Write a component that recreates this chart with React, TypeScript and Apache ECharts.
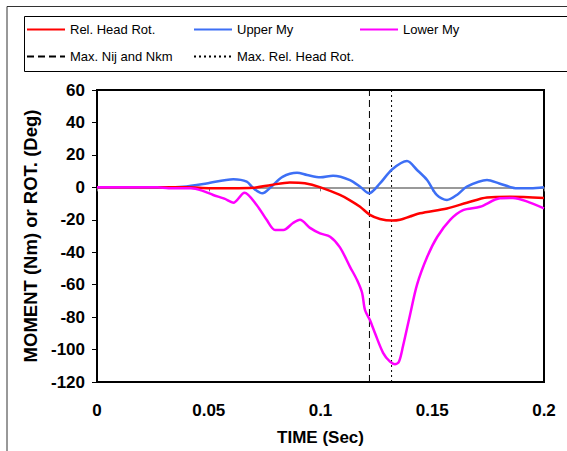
import React, { useEffect, useRef } from "react";
import * as echarts from "echarts";

const relHeadRotTime = [0, 0.04, 0.05, 0.06, 0.07, 0.078, 0.0863, 0.093, 0.1, 0.1087, 0.1132, 0.1177, 0.1221, 0.1266, 0.132, 0.1356, 0.14, 0.1445, 0.1566, 0.1655, 0.1745, 0.1848, 0.2];
const relHeadRotValues = [0, 0, -0.5, -0.6, -0.3, 1.5, 3, 2.5, 0, -4.7, -8, -12, -17, -19.5, -20.5, -20, -18, -16, -13, -9.5, -6.2, -5.8, -6.6];

const upperMyTime = [0, 0.035, 0.0385, 0.049, 0.061, 0.067, 0.07, 0.074, 0.078, 0.083, 0.0895, 0.094, 0.1, 0.1056, 0.1132, 0.118, 0.1217, 0.1266, 0.132, 0.1387, 0.1432, 0.1477, 0.152, 0.1566, 0.161, 0.1655, 0.1745, 0.18, 0.188, 0.194, 0.2];
const upperMyValues = [0, 0, 0.3, 2.4, 5, 3.5, -0.6, -3.7, 0.4, 6.5, 9, 7.6, 6.2, 7.2, 4.5, 0, -3.7, 2.4, 11, 16.2, 10.7, 4.5, -4.7, -7.8, -4.7, 0.4, 4.5, 2.4, -0.6, -0.6, 0];

const lowerMyTime = [0, 0.027, 0.032, 0.042, 0.047, 0.052, 0.057, 0.061, 0.066, 0.0715, 0.0759, 0.0797, 0.0834, 0.0877, 0.0908, 0.0953, 0.0998, 0.1043, 0.1087, 0.1132, 0.1163, 0.1186, 0.1199, 0.1221, 0.1244, 0.128, 0.1311, 0.1333, 0.1351, 0.1369, 0.14, 0.1432, 0.1477, 0.1522, 0.158, 0.1638, 0.1714, 0.1803, 0.1861, 0.192, 0.2];
const lowerMyValues = [0, 0, -0.6, -0.6, -2, -4.7, -7, -9.5, -3.3, -11, -20, -26.3, -26.3, -22, -20, -25, -28.4, -30.4, -37, -49, -57, -65, -75.6, -81.8, -90, -102, -107.5, -109, -107.5, -98, -79, -60, -43, -30.6, -20, -14, -12, -6.8, -6.6, -8.5, -13];

const maxNijTime = 0.1219;
const maxRelHeadRotTime = 0.1318;

const xTicks = { min: 0, max: 0.2, interval: 0.05 };
const yTicks = { min: -120, max: 60, interval: 20 };

const zip = (t: number[], v: number[]) => t.map((x, i) => [x, v[i]]);
const vLine = (t: number) => [[t, yTicks.min], [t, yTicks.max]];

const FONT = "'Liberation Sans', Arial, sans-serif";

export default function App() {
  const ref = useRef<HTMLDivElement>(null);
  useEffect(() => {
    if (!ref.current) return;
    const chart = echarts.init(ref.current, null, { renderer: "svg" });
    const legendCommon = {
      itemWidth: 38, itemHeight: 14, itemGap: 0, padding: 0,
      itemStyle: { color: "rgba(0,0,0,0)", borderWidth: 0, opacity: 0 },
      textStyle: { fontFamily: FONT, fontSize: 13, color: "#000" },
    };
    chart.setOption({
      animation: false,
      backgroundColor: "#fff",
      graphic: [
        { type: "rect", shape: { x: 7, y: 6.5, width: 620, height: 500 }, style: { fill: "none", stroke: "#333", lineWidth: 1 }, silent: true },
        { type: "rect", shape: { x: 24.5, y: 16.5, width: 600, height: 55 }, style: { fill: "none", stroke: "#000", lineWidth: 1 }, silent: true },
      ],
      legend: [
        { ...legendCommon, left: 26, top: 23, data: ["Rel. Head Rot."] },
        { ...legendCommon, left: 193, top: 23, data: ["Upper My"] },
        { ...legendCommon, left: 359, top: 23, data: ["Lower My"] },
        { ...legendCommon, left: 26, top: 50, data: ["Max. Nij and Nkm"] },
        { ...legendCommon, left: 193, top: 50, data: ["Max. Rel. Head Rot."] },
      ],
      grid: { left: 97, right: 23, top: 90, bottom: 69, show: true, borderColor: "#000", borderWidth: 2, backgroundColor: "transparent" },
      xAxis: [
        {
          type: "value", position: "bottom", ...xTicks,
          axisLine: { show: false, onZero: false },
          axisTick: { show: false },
          splitLine: { show: false },
          axisLabel: { fontFamily: FONT, fontSize: 17, fontWeight: "bold", color: "#000", margin: 20 },
          name: "TIME (Sec)", nameLocation: "middle", nameGap: 47,
          nameTextStyle: { fontFamily: FONT, fontSize: 17, fontWeight: "bold", color: "#000" },
        },
        {
          type: "value", position: "bottom", ...xTicks,
          axisLine: { show: true, onZero: true, onZeroAxisIndex: 0, lineStyle: { color: "#777", width: 1.5 } },
          axisTick: { show: true, length: 4, lineStyle: { color: "#777", width: 1 } },
          splitLine: { show: false },
          axisLabel: { show: false },
        },
      ],
      yAxis: {
        type: "value", ...yTicks,
        axisLine: { show: true, onZero: false, lineStyle: { color: "#000", width: 2 } },
        axisTick: { show: true, length: 5, lineStyle: { color: "#000", width: 1 } },
        splitLine: { show: false },
        axisLabel: { fontFamily: FONT, fontSize: 17, fontWeight: "bold", color: "#000", margin: 12 },
        name: "MOMENT (Nm) or ROT. (Deg)", nameLocation: "middle", nameGap: 52,
        nameTextStyle: { fontFamily: FONT, fontSize: 18.5, fontWeight: "bold", color: "#000" },
      },
      series: [
        {
          name: "Max. Nij and Nkm", type: "line", data: vLine(maxNijTime), symbol: "none", z: 2,
          lineStyle: { color: "#000", width: 1, type: [7, 4] }, itemStyle: { color: "#000" },
        },
        {
          name: "Max. Rel. Head Rot.", type: "line", data: vLine(maxRelHeadRotTime), symbol: "none", z: 2,
          lineStyle: { color: "#000", width: 1, type: [2, 3] }, itemStyle: { color: "#000" },
        },
        {
          name: "Rel. Head Rot.", type: "line", data: zip(relHeadRotTime, relHeadRotValues),
          smooth: 0.3, symbol: "none", z: 4,
          lineStyle: { color: "#FF0000", width: 2.5 }, itemStyle: { color: "#FF0000" },
        },
        {
          name: "Upper My", type: "line", data: zip(upperMyTime, upperMyValues),
          smooth: 0.3, symbol: "none", z: 3,
          lineStyle: { color: "#3D6FF5", width: 2.5 }, itemStyle: { color: "#3D6FF5" },
        },
        {
          name: "Lower My", type: "line", data: zip(lowerMyTime, lowerMyValues),
          smooth: 0.3, symbol: "none", z: 5,
          lineStyle: { color: "#FF00FF", width: 2.5 }, itemStyle: { color: "#FF00FF" },
        },
      ],
    });
    return () => chart.dispose();
  }, []);
  return <div ref={ref} style={{ width: 567, height: 451, position: "absolute", left: 0, top: 0 }} />;
}
